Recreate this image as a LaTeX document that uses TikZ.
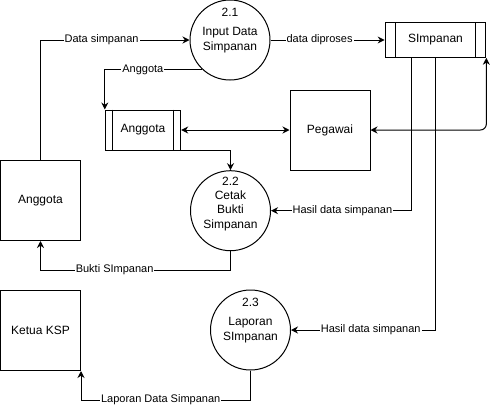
\documentclass[tikz,border=0pt]{standalone}
\usepackage{fontspec}
\setmainfont{Liberation Sans}
\usetikzlibrary{arrows.meta}
\begin{document}
\begin{tikzpicture}[x=1pt,y=-1pt,line width=1pt,
  entity/.style={draw,rectangle,minimum width=80pt,minimum height=80pt,inner sep=0pt,font=\fontsize{12}{14.5}\selectfont},
  process/.style={draw,circle,minimum size=80pt,inner sep=0pt,align=center,font=\fontsize{12}{14.5}\selectfont},
  pnum/.style={inner sep=0pt,font=\fontsize{12}{14.5}\selectfont},
  store/.style={draw,rectangle,inner sep=0pt,font=\fontsize{12}{14.5}\selectfont},
  flow/.style={-{Stealth[length=7pt,width=7pt]}},
  bflow/.style={{Stealth[length=7pt,width=7pt]}-{Stealth[length=7pt,width=7pt]}},
  lbl/.style={fill=white,inner sep=1pt,font=\fontsize{11}{13}\selectfont}]
\useasboundingbox (0,0) rectangle (496,410);

% entities
\node[entity] (ea) at (40.5,200.5) {Anggota};
\node[entity] (ketua) at (40.5,330.5) {Ketua KSP};
\node[entity] (peg) at (330,130) {Pegawai};

% processes
\node[process] (c21) at (230,40) {Input Data\\Simpanan};
\node[pnum] (n21) at (230,12) {2.1};
\node[process] (c22) at (230.5,210.7) {Cetak\\Bukti\\Simpanan};
\node[pnum] (n22) at (230.5,181) {2.2};
\node[process] (c23) at (250.5,330) {Laporan\\SImpanan};
\node[pnum] (n23) at (250.5,302) {2.3};

% data stores
\node[store,minimum width=75.4pt,minimum height=40pt] (ast) at (143,130) {Anggota};
\draw ([xshift=8pt]ast.north west) -- ([xshift=8pt]ast.south west);
\draw ([xshift=-8pt]ast.north east) -- ([xshift=-8pt]ast.south east);
\node[store,minimum width=100.7pt,minimum height=34.6pt] (sim) at (435.5,40) {SImpanan};
\draw ([xshift=10.5pt]sim.north west) -- ([xshift=10.5pt]sim.south west);
\draw ([xshift=-10.5pt]sim.north east) -- ([xshift=-10.5pt]sim.south east);

\coordinate (s1) at (411,57.3);

% flows
\draw[flow] (ea.north) |- node[lbl,pos=0.705] {Data simpanan} (c21.west);
\draw[flow] (c21.east) -- node[lbl,pos=0.43] {data diproses} (sim.west);
\draw[flow] (c21.227) -| node[lbl,pos=0.305] {Anggota} (ast.north west);
\draw[flow] (ast.south east) -| (c22.north);
\draw[bflow] (ast.east) -- (peg.west);
\draw[bflow,rounded corners=6pt] (peg.east) -| (sim.south east);
\draw[flow] (s1) |- node[lbl,pos=0.745] {Hasil data simpanan} (c22.east);
\draw[flow] (sim.south) |- node[lbl,pos=0.724] {Hasil data simpanan} (c23.east);
\draw[flow] (c22.south) -- (c22.south |- 0,270) -- node[lbl,pos=0.61] {Bukti SImpanan} (ea.south |- 0,270) -- (ea.south);
\draw[flow] (c23.south) -- (c23.south |- 0,400) -- node[lbl,pos=0.53] {Laporan Data Simpanan} (ketua.south east |- 0,400) -- (ketua.south east);
\end{tikzpicture}
\end{document}
